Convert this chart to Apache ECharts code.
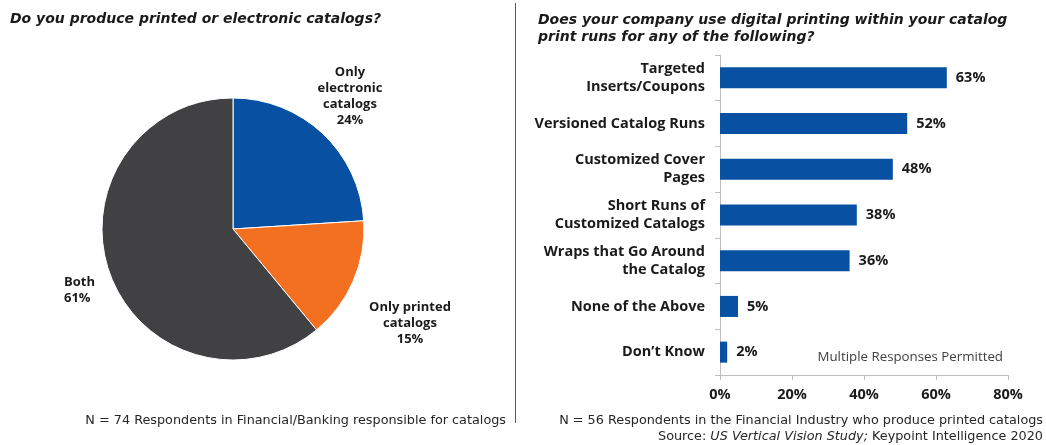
<!DOCTYPE html>
<html>
<head>
<meta charset="utf-8">
<script src="https://cdn.jsdelivr.net/npm/echarts@6/dist/echarts.min.js"></script>
<style>
  html, body { margin: 0; padding: 0; background: #ffffff; }
  #chart { width: 1046px; height: 445px; }
</style>
</head>
<body>
<div id="chart"></div>
<script>
// Catalog format share (pie)
const formatNames = ['Only\nelectronic\ncatalogs', 'Only printed\ncatalogs', 'Both'];
const formatShares = [24, 15, 61];

// Digital printing uses within catalog print runs (bars)
const useCategories = [
  'Targeted\nInserts/Coupons',
  'Versioned Catalog Runs',
  'Customized Cover\nPages',
  'Short Runs of\nCustomized Catalogs',
  'Wraps that Go Around\nthe Catalog',
  'None of the Above',
  'Don\u2019t Know'
];
const useShares = [63, 52, 48, 38, 36, 5, 2];
const axisTicks = [0, 20, 40, 60, 80];

const FONT = '"Open Sans", sans-serif';
const WIDE = '"DejaVu Sans", sans-serif';
const INK = '#1a1a1a';
const NOTE = '#262626';
const sliceColors = ['#0850A1', '#F37021', '#414042'];
const barColor = '#0850A1';

// label anchor points for the three pie slices
const pieLabelSpots = [
  { x: 350, y: 96, align: 'center' },
  { x: 410, y: 323, align: 'center' },
  { x: 64, y: 290, align: 'left' }
];

const chart = echarts.init(document.getElementById('chart'), null, { renderer: 'canvas' });

chart.setOption({
  animation: false,
  backgroundColor: '#ffffff',
  title: [
    {
      text: 'Do you produce printed or electronic catalogs?',
      left: 5, top: 7,
      textStyle: { fontFamily: WIDE, fontSize: 14, fontWeight: 'bold', fontStyle: 'italic', color: INK }
    },
    {
      text: 'Does your company use digital printing within your catalog\nprint runs for any of the following?',
      left: 533, top: 7,
      textStyle: { fontFamily: WIDE, fontSize: 14, fontWeight: 'bold', fontStyle: 'italic', color: INK, lineHeight: 17 }
    }
  ],
  grid: { left: 720, right: 38, top: 55, bottom: 70, containLabel: false },
  xAxis: {
    type: 'value',
    min: axisTicks[0],
    max: axisTicks[axisTicks.length - 1],
    interval: axisTicks[1] - axisTicks[0],
    axisLine: { show: true, lineStyle: { color: '#BFBFBF', width: 1 } },
    axisTick: { show: true, length: 5, lineStyle: { color: '#BFBFBF' } },
    splitLine: { show: false },
    axisLabel: {
      formatter: '{value}%', margin: 12,
      fontFamily: FONT, fontSize: 14.5, fontWeight: 'bold', color: INK
    }
  },
  yAxis: {
    type: 'category',
    data: useCategories,
    inverse: true,
    axisLine: { show: true, lineStyle: { color: '#BFBFBF', width: 1 } },
    axisTick: { show: true, length: 5, alignWithLabel: false, lineStyle: { color: '#BFBFBF' } },
    axisLabel: {
      margin: 15, align: 'right',
      fontFamily: FONT, fontSize: 14.5, fontWeight: 'bold', color: INK, lineHeight: 18
    }
  },
  series: [
    {
      type: 'pie',
      center: [233, 229],
      radius: 131,
      startAngle: 90,
      clockwise: true,
      data: formatNames.map((n, i) => ({ name: n, value: formatShares[i], itemStyle: { color: sliceColors[i] } })),
      itemStyle: { borderColor: '#ffffff', borderWidth: 1 },
      label: {
        show: true,
        position: 'outside',
        formatter: p => p.name + '\n' + p.value + '%',
        fontFamily: FONT, fontSize: 13, fontWeight: 'bold', color: INK, lineHeight: 16
      },
      labelLine: { show: false },
      labelLayout: p => {
        const s = pieLabelSpots[p.dataIndex];
        return { x: s.x, y: s.y, align: s.align, verticalAlign: 'middle' };
      },
      emphasis: { disabled: true }
    },
    {
      type: 'bar',
      data: useShares,
      barWidth: '46%',
      itemStyle: { color: barColor },
      label: {
        show: true, position: 'right', distance: 9,
        formatter: '{c}%',
        fontFamily: FONT, fontSize: 14.5, fontWeight: 'bold', color: INK
      },
      emphasis: { disabled: true }
    }
  ],
  graphic: [
    {
      type: 'line', silent: true,
      shape: { x1: 515.5, y1: 3, x2: 515.5, y2: 423 },
      style: { stroke: '#A3345E', lineWidth: 1 }
    },
    {
      type: 'text', silent: true, x: 1003, y: 357,
      style: {
        text: 'Multiple Responses Permitted', align: 'right', verticalAlign: 'middle',
        font: '13.3px ' + FONT, fill: '#404040'
      }
    },
    {
      type: 'text', silent: true, x: 506, y: 421,
      style: {
        text: 'N = 74 Respondents in Financial/Banking responsible for catalogs', align: 'right', verticalAlign: 'middle',
        font: '12.8px ' + WIDE, fill: NOTE
      }
    },
    {
      type: 'text', silent: true, x: 1043, y: 421,
      style: {
        text: 'N = 56 Respondents in the Financial Industry who produce printed catalogs', align: 'right', verticalAlign: 'middle',
        font: '12.8px ' + WIDE, fill: NOTE
      }
    },
    {
      type: 'text', silent: true, x: 1043, y: 437,
      style: {
        rich: {
          r: { font: '12.8px ' + WIDE, fill: NOTE },
          i: { font: 'italic 12.8px ' + WIDE, fill: NOTE }
        },
        text: '{r|Source: }{i|US Vertical Vision Study;}{r| Keypoint Intelligence 2020}',
        align: 'right', verticalAlign: 'middle'
      }
    }
  ]
});
</script>
</body>
</html>
